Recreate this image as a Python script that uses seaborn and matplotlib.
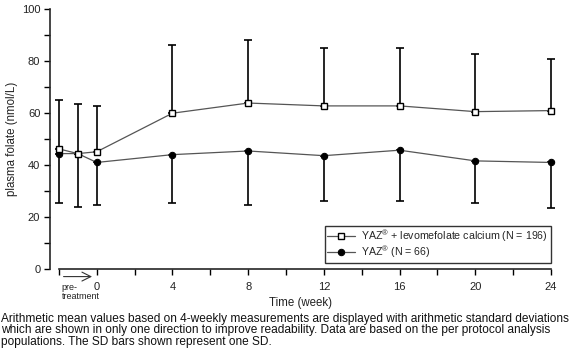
import matplotlib
matplotlib.use("Agg")
import matplotlib.pyplot as plt
import seaborn as sns
import pandas as pd
import numpy as np

# weeks (-2 and -1 are the two pre-treatment visits)
weeks = [-2, -1, 0, 4, 8, 12, 16, 20, 24]

# YAZ + levomefolate calcium: mean and SD (SD shown upward)
folate_mean = [46.2, 44.4, 45.1, 59.9, 63.8, 62.7, 62.7, 60.5, 60.9]
folate_sd = [18.8, 19.0, 17.6, 26.2, 24.3, 22.1, 22.3, 22.2, 19.8]

# YAZ alone: mean and SD (SD shown downward)
yaz_mean = [44.4, 44.4, 41.0, 44.0, 45.4, 43.6, 45.7, 41.6, 41.0]
yaz_sd = [18.8, 20.6, 16.2, 18.6, 20.8, 17.3, 19.4, 16.3, 17.5]

label_folate = r"YAZ$^{\circledR}$ + levomefolate calcium (N = 196)"
label_yaz = r"YAZ$^{\circledR}$ (N = 66)"

caption = [
    "Arithmetic mean values based on 4-weekly measurements are displayed with arithmetic standard deviations",
    "which are shown in only one direction to improve readability. Data are based on the per protocol analysis",
    "populations. The SD bars shown represent one SD.",
]

sns.set_style("ticks")
plt.rcParams['font.family'] = ['Liberation Sans', 'DejaVu Sans']
plt.rcParams['mathtext.fontset'] = 'custom'
plt.rcParams['mathtext.rm'] = 'Liberation Sans'

df_folate = pd.DataFrame({'week': weeks, 'mean': folate_mean, 'sd': folate_sd})
df_yaz = pd.DataFrame({'week': weeks, 'mean': yaz_mean, 'sd': yaz_sd})

fig = plt.figure(figsize=(5.82, 3.51), dpi=100)
ax = fig.add_axes([0.0859, 0.2328, 0.8608, 0.7424])

# SD bars: one direction only
ax.errorbar(df_folate['week'], df_folate['mean'],
            yerr=[np.zeros(len(weeks)), df_folate['sd']],
            fmt='none', ecolor='black', elinewidth=1.2, capsize=2.6, capthick=1.2,
            clip_on=False, zorder=2)
ax.errorbar(df_yaz['week'], df_yaz['mean'],
            yerr=[df_yaz['sd'], np.zeros(len(weeks))],
            fmt='none', ecolor='black', elinewidth=1.2, capsize=2.6, capthick=1.2,
            clip_on=False, zorder=2)

sns.lineplot(data=df_yaz, x='week', y='mean', ax=ax, color='#555555', lw=0.9,
             marker='o', markersize=4.6, markerfacecolor='black',
             markeredgecolor='black', label=label_yaz, zorder=3, clip_on=False)
sns.lineplot(data=df_folate, x='week', y='mean', ax=ax, color='#555555', lw=0.9,
             marker='s', markersize=4.4, markerfacecolor='white',
             markeredgecolor='black', markeredgewidth=1.0,
             label=label_folate, zorder=4, clip_on=False)

ax.set_xlim(-2.47, 24)
ax.set_ylim(0, 100)
ax.set_xticks([0, 4, 8, 12, 16, 20, 24])
ax.set_xticks([-2, 2, 6, 10, 14, 18, 22], minor=True)
ax.set_yticks([0, 20, 40, 60, 80, 100])
ax.set_yticks([10, 30, 50, 70, 90], minor=True)
ax.tick_params(axis='both', which='both', direction='out', length=4,
               width=1.0, color='black', labelsize=8, labelcolor='#222222')
ax.tick_params(axis='x', which='major', pad=5)
ax.tick_params(axis='y', which='major', pad=3)

sns.despine(ax=ax)
ax.spines['bottom'].set_bounds(-2, 24)
ax.spines['left'].set_linewidth(1.2)
ax.spines['bottom'].set_linewidth(1.2)

ax.set_xlabel('Time (week)', fontsize=8.3, color='#222222', labelpad=4)
ax.set_ylabel('plasma folate (nmol/L)', fontsize=8.3, color='#222222', labelpad=3)

# pre-treatment marker below the axis
ax.annotate('', xy=(-0.1, -2.8), xytext=(-1.9, -2.8),
            arrowprops=dict(arrowstyle='->', color='#333333', lw=0.8,
                            mutation_scale=16),
            annotation_clip=False)
ax.text(-1.85, -7.0, 'pre-', fontsize=6.5, va='center', ha='left', color='#222222')
ax.text(-1.85, -10.6, 'treatment', fontsize=6.5, va='center', ha='left', color='#222222')

# legend: squares first
handles, labels = ax.get_legend_handles_labels()
order = [labels.index(label_folate), labels.index(label_yaz)]
leg = ax.legend([handles[i] for i in order], [labels[i] for i in order],
                loc='lower right', bbox_to_anchor=(1.0, 0.025),
                borderaxespad=0, frameon=True, fancybox=False,
                edgecolor='black', fontsize=7.7, handlelength=2.6,
                handletextpad=0.6, labelspacing=0.0, borderpad=0.25)
leg.get_frame().set_linewidth(1.0)

for i, line in enumerate(caption):
    fig.text(0.002, 1 - (319 + 11.5 * i) / 351, line, fontsize=8.6,
             va='center', ha='left', color='#111111')

fig.savefig('out.png', dpi=100)
